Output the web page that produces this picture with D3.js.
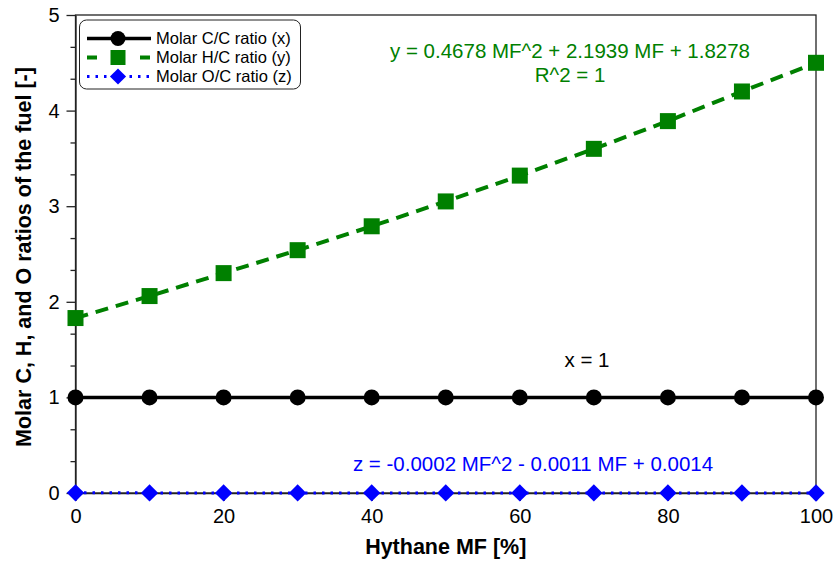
<!DOCTYPE html>
<html>
<head>
<meta charset="utf-8">
<script src="https://cdn.jsdelivr.net/npm/d3@7"></script>
<style>
  body { margin: 0; background: #fff; }
  svg { font-family: "Liberation Sans", Arial, sans-serif; }
</style>
</head>
<body>
<div class="chart"></div>
<script>
// hythane mass fraction, %
var mf = [0, 10, 20, 30, 40, 50, 60, 70, 80, 90, 100];
var ccRatio = [1, 1, 1, 1, 1, 1, 1, 1, 1, 1, 1];
var hcRatio = [1.83, 2.06, 2.30, 2.54, 2.79, 3.05, 3.32, 3.60, 3.89, 4.20, 4.50];
var ocRatio = [0.0014, 0.0013, 0.0012, 0.001, 0.0009, 0.0008, 0.0007, 0.0006, 0.0004, 0.0003, 0.0001];

var xTicks = [0, 20, 40, 60, 80, 100];
var yTicks = [0, 1, 2, 3, 4, 5];
var legendNames = ["Molar C/C ratio (x)", "Molar H/C ratio (y)", "Molar O/C ratio (z)"];

let w = 835;
let h = 563;

var svg = d3.select(".chart")
  .append("svg")
  .attr("width", w)
  .attr("height", h);

var x = d3.scaleLinear().domain([0, 100]).range([75.5, 816]);
var y = d3.scaleLinear().domain([0, 5]).range([493, 15]);

// frame (top + right)
svg.append("rect")
  .attr("x", x(0)).attr("y", y(5))
  .attr("width", x(100) - x(0)).attr("height", y(0) - y(5))
  .attr("fill", "none").attr("stroke", "#222").attr("stroke-width", 1.3);

// minor y ticks, every third
var minorY = [];
for (let i = 0; i < 15; i++) { if (i % 3 != 0) minorY.push(i / 3); }
svg.append("g")
  .attr("transform", "translate(" + x(0) + ",0)")
  .call(d3.axisLeft(y).tickValues(minorY).tickSize(5).tickFormat(""))
  .call(g => g.select(".domain").remove());

// y axis
var yAxis = svg.append("g")
  .attr("transform", "translate(" + x(0) + ",0)")
  .call(d3.axisLeft(y).tickValues(yTicks).tickSize(9).tickSizeOuter(0).tickPadding(7).tickFormat(d3.format("d")));
yAxis.selectAll("text").attr("font-size", 20).attr("font-family", "Liberation Sans, Arial, sans-serif").attr("fill", "#000");

// x axis
var xAxis = svg.append("g")
  .attr("transform", "translate(0," + y(0) + ")")
  .call(d3.axisBottom(x).tickValues(xTicks).tickSize(8).tickSizeOuter(0).tickPadding(8));
xAxis.selectAll("text").attr("font-size", 20).attr("font-family", "Liberation Sans, Arial, sans-serif").attr("fill", "#000");
svg.selectAll(".domain, .tick line").attr("stroke", "#222").attr("stroke-width", 1.3);

// axis titles
svg.append("text")
  .text("Hythane MF [%]")
  .attr("x", (x(0) + x(100)) / 2).attr("y", 554)
  .attr("text-anchor", "middle")
  .attr("font-size", 21.5).attr("font-weight", "bold");

svg.append("text")
  .text("Molar C, H, and O ratios of the fuel [-]")
  .attr("transform", "translate(31," + ((y(0) + y(5)) / 2 + 3) + ") rotate(-90)")
  .attr("text-anchor", "middle")
  .attr("font-size", 21.5).attr("font-weight", "bold");

var line = d3.line()
  .x(function(d, i) { return x(mf[i]); })
  .y(function(d) { return y(d); });

// O/C (blue dotted, diamonds)
svg.append("path").datum(ocRatio)
  .attr("d", line).attr("fill", "none")
  .attr("stroke", "#0000ff").attr("stroke-width", 3).attr("stroke-dasharray", "2.5,6");
svg.selectAll(".oc").data(ocRatio).enter()
  .append("path").attr("class", "oc")
  .attr("d", d3.symbol().type(d3.symbolSquare).size(150))
  .attr("transform", function(d, i) { return "translate(" + x(mf[i]) + "," + y(d) + ") rotate(45)"; })
  .attr("fill", "#0000ff");

// C/C (black solid, circles)
svg.append("path").datum(ccRatio)
  .attr("d", line).attr("fill", "none")
  .attr("stroke", "#000").attr("stroke-width", 3.5);
svg.selectAll(".cc").data(ccRatio).enter()
  .append("circle").attr("class", "cc")
  .attr("cx", function(d, i) { return x(mf[i]); })
  .attr("cy", function(d) { return y(d); })
  .attr("r", 8).attr("fill", "#000");

// H/C (green dashed, squares)
svg.append("path").datum(hcRatio)
  .attr("d", line).attr("fill", "none")
  .attr("stroke", "#008000").attr("stroke-width", 4).attr("stroke-dasharray", "13,8");
svg.selectAll(".hc").data(hcRatio).enter()
  .append("rect").attr("class", "hc")
  .attr("x", function(d, i) { return x(mf[i]) - 8; })
  .attr("y", function(d) { return y(d) - 8; })
  .attr("width", 16).attr("height", 16)
  .attr("fill", "#008000");

// fit annotations
svg.append("text").text("y = 0.4678 MF^2 + 2.1939 MF + 1.8278")
  .attr("x", 570).attr("y", 58).attr("text-anchor", "middle")
  .attr("font-size", 20.5).attr("fill", "#008000");
svg.append("text").text("R^2 = 1")
  .attr("x", 570).attr("y", 82).attr("text-anchor", "middle")
  .attr("font-size", 20.5).attr("fill", "#008000");
svg.append("text").text("x = 1")
  .attr("x", 587).attr("y", 367).attr("text-anchor", "middle")
  .attr("font-size", 20.5).attr("fill", "#000");
svg.append("text").text("z = -0.0002 MF^2 - 0.0011 MF + 0.0014")
  .attr("x", 533).attr("y", 471).attr("text-anchor", "middle")
  .attr("font-size", 20.5).attr("fill", "#0000ff");

// legend
var legend = svg.append("g");
legend.append("rect")
  .attr("x", 79.5).attr("y", 20).attr("width", 221).attr("height", 69)
  .attr("rx", 7).attr("fill", "#fff").attr("stroke", "#222").attr("stroke-width", 1);

var rowsY = [38.5, 57.5, 76.5];
var lx1 = 87, lx2 = 151, lmid = 118;

legend.append("line").attr("x1", lx1).attr("x2", lx2).attr("y1", rowsY[0]).attr("y2", rowsY[0])
  .attr("stroke", "#000").attr("stroke-width", 3.5);
legend.append("circle").attr("cx", lmid).attr("cy", rowsY[0]).attr("r", 7.5).attr("fill", "#000");

legend.append("line").attr("x1", lx1).attr("x2", lx2).attr("y1", rowsY[1]).attr("y2", rowsY[1])
  .attr("stroke", "#008000").attr("stroke-width", 4).attr("stroke-dasharray", "10,15,13,15,10");
legend.append("rect").attr("x", lmid - 7.5).attr("y", rowsY[1] - 7.5).attr("width", 15).attr("height", 15).attr("fill", "#008000");

legend.append("line").attr("x1", lx1).attr("x2", lx2).attr("y1", rowsY[2]).attr("y2", rowsY[2])
  .attr("stroke", "#0000ff").attr("stroke-width", 3).attr("stroke-dasharray", "2.5,6");
legend.append("path").attr("d", d3.symbol().type(d3.symbolSquare).size(130))
  .attr("transform", "translate(" + lmid + "," + rowsY[2] + ") rotate(45)").attr("fill", "#0000ff");

legend.selectAll(".lt").data(legendNames).enter()
  .append("text").attr("class", "lt")
  .text(function(d) { return d; })
  .attr("x", 156)
  .attr("y", function(d, i) { return rowsY[i] + 5.5; })
  .attr("font-size", 16.5).attr("fill", "#000");
</script>
</body>
</html>
